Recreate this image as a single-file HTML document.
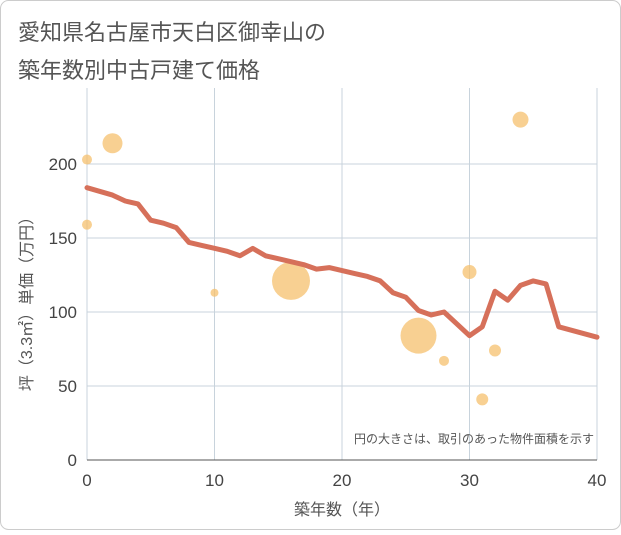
<!DOCTYPE html>
<html><head><meta charset="utf-8">
<style>
body{margin:0;background:#fff;}
#wrap{width:621px;height:530px;position:relative;font-family:"Liberation Sans","Noto Sans CJK JP",sans-serif;}
</style></head>
<body>
<div id="wrap">
<svg id="chart" width="621" height="530" xmlns="http://www.w3.org/2000/svg">
<rect x="0.5" y="0.5" width="620" height="529" rx="8" fill="#fff" stroke="#ccc"/>
<text x="18" y="40" font-size="22" fill="#555" font-family="Liberation Sans, Noto Sans CJK JP, sans-serif">愛知県名古屋市天白区御幸山の</text>
<text x="18" y="78" font-size="22" fill="#555" font-family="Liberation Sans, Noto Sans CJK JP, sans-serif">築年数別中古戸建て価格</text>
<g id="grid"></g><g id="bubbles"></g><g id="line"></g><g id="axes"></g>
<text x="594" y="443" font-size="12" fill="#555" text-anchor="end" font-family="Liberation Sans, Noto Sans CJK JP, sans-serif">円の大きさは、取引のあった物件面積を示す</text>
<text x="342" y="515" font-size="16" fill="#555" text-anchor="middle" font-family="Liberation Sans, Noto Sans CJK JP, sans-serif">築年数（年）</text>
<text transform="translate(32,300) rotate(-90)" font-size="16" fill="#555" text-anchor="middle" font-family="Liberation Sans, Noto Sans CJK JP, sans-serif">坪（3.3㎡）単価（万円）</text>
</svg>
</div>
<script>
const xTicks=[0,10,20,30,40];
const yTicks=[0,50,100,150,200];
const lineYears=[0,2,3,4,5,6,7,8,9,10,11,12,13,14,15,16,17,18,19,20,21,22,23,24,25,26,27,28,29,30,31,32,33,34,35,36,37,40];
const linePrices=[184,179,175,173,162,160,157,147,145,143,141,138,143,138,136,134,132,129,130,128,126,124,121,113,110,101,98,100,92,84,90,114,108,118,121,119,90,83];
const bubbleYears=[0,0,2,10,16,26,28,30,31,32,34];
const bubblePrices=[203,159,214,113,121,84,67,127,41,74,230];
const bubbleSizes=[5,5,10,4,19,18,5,7,6,6,8];
const NS="http://www.w3.org/2000/svg";
const X0=87,X1=597,Y0=460,Ypx=1.48,TOP=88;
function xs(v){return X0+(X1-X0)*v/40;}
function ys(v){return Y0-v*Ypx;}
function mk(t,a,p){const e=document.createElementNS(NS,t);for(const k in a)e.setAttribute(k,a[k]);p.appendChild(e);return e;}
const grid=document.getElementById('grid'),axes=document.getElementById('axes');
xTicks.forEach(t=>{
 const l=mk('line',{x1:xs(t),x2:xs(t),y1:TOP,y2:Y0,stroke:'#c8d3dc','stroke-width':1},grid);
 
 
 const tx=mk('text',{x:xs(t),y:Y0+26,'font-size':17,fill:'#444','text-anchor':'middle','font-family':'Liberation Sans, sans-serif'},axes);
 tx.textContent=t;
 
 
});
yTicks.forEach(t=>{
 const l=mk('line',{x1:X0,x2:X1,y1:ys(t),y2:ys(t),stroke:t===0?'#555':'#c8d3dc','stroke-width':1},grid);
 
 
 const tx=mk('text',{x:X0-10,y:ys(t)+6,'font-size':17,fill:'#444','text-anchor':'end','font-family':'Liberation Sans, sans-serif'},axes);
 tx.textContent=t;
 
 
});
const bg=document.getElementById('bubbles');
bubbleYears.forEach((y,i)=>{
 const c=mk('circle',{cx:xs(y),cy:ys(bubblePrices[i]),r:bubbleSizes[i],fill:'#f5c06e','fill-opacity':0.75},bg);
 
 
});
const pts=lineYears.map((y,i)=>xs(y)+','+ys(linePrices[i])).join(' ');
const pl=mk('polyline',{points:pts,fill:'none',stroke:'#d6705a','stroke-width':5,'stroke-linejoin':'round','stroke-linecap':'round'},document.getElementById('line'));


</script>
</body></html>
